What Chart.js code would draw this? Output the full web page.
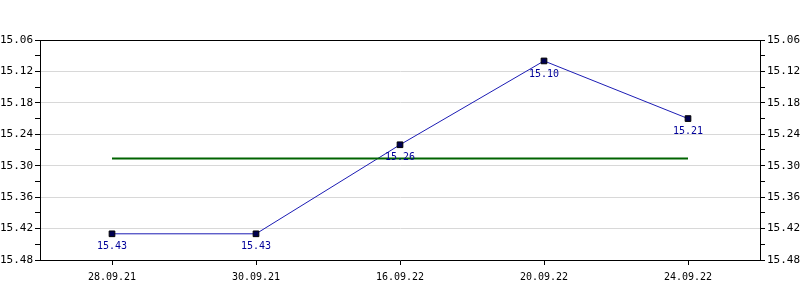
<!DOCTYPE html>
<html>
<head>
    <title>Price chart</title>
    <style>
        body { margin: 0; padding: 0; background: #fff; }
        canvas { display: block; }
    </style>
</head>
<body>
    <canvas id="priceChart" width="800" height="300"></canvas>

    <script src="https://cdn.jsdelivr.net/npm/chart.js"></script>
    <script>
        // chart data
        const dates = ['28.09.21', '30.09.21', '16.09.22', '20.09.22', '24.09.22'];
        const prices = [15.43, 15.43, 15.26, 15.10, 15.21];
        const averageLine = [15.286, 15.286, 15.286, 15.286, 15.286];
        const yMin = 15.06;
        const yMax = 15.48;
        const yStep = 0.03; // labels on every second tick

        const monoFont = 'DejaVu Sans Mono';

        // value labels under each point + black top border
        const extrasPlugin = {
            id: 'extras',
            afterDatasetsDraw(chart) {
                const ctx = chart.ctx;
                const area = chart.chartArea;
                ctx.save();
                ctx.strokeStyle = '#000';
                ctx.lineWidth = 1;
                ctx.beginPath();
                ctx.moveTo(area.left, area.top + 0.5);
                ctx.lineTo(area.right, area.top + 0.5);
                ctx.stroke();

                const meta = chart.getDatasetMeta(1);
                ctx.font = '10px "' + monoFont + '"';
                ctx.fillStyle = '#00009a';
                ctx.textAlign = 'center';
                ctx.textBaseline = 'middle';
                meta.data.forEach((pt, i) => {
                    ctx.fillText(prices[i].toFixed(2), pt.x, pt.y + 13);
                });
                ctx.restore();
            }
        };

        function yAxis(side) {
            return {
                type: 'linear',
                position: side,
                reverse: true,
                min: yMin,
                max: yMax,
                afterFit(scale) { scale.width = 40; },
                ticks: {
                    stepSize: yStep,
                    autoSkip: false,
                    padding: 2,
                    color: '#000',
                    font: { family: monoFont, size: 11 },
                    callback: (v, i) => i % 2 === 0 ? v.toFixed(2) : ''
                },
                grid: {
                    drawOnChartArea: side === 'left',
                    color: (c) => c.index % 2 === 0 ? '#d8d8d8' : 'rgba(0,0,0,0)',
                    tickColor: '#000',
                    tickLength: 5
                },
                border: { color: '#000' }
            };
        }

        new Chart(document.getElementById('priceChart'), {
            type: 'line',
            data: {
                labels: dates,
                datasets: [
                    {
                        data: averageLine,
                        borderColor: '#006400',
                        borderWidth: 2,
                        pointRadius: 0,
                        yAxisID: 'y'
                    },
                    {
                        data: prices,
                        borderColor: '#1c1cb4',
                        borderWidth: 1,
                        pointStyle: 'rect',
                        pointRadius: 4,
                        pointBackgroundColor: '#000050',
                        pointBorderColor: '#000',
                        pointBorderWidth: 1,
                        yAxisID: 'y'
                    }
                ]
            },
            options: {
                responsive: false,
                animation: false,
                events: [],
                layout: { padding: { top: 40, left: 0, right: 0, bottom: 0 } },
                plugins: {
                    legend: { display: false },
                    tooltip: { enabled: false }
                },
                scales: {
                    x: {
                        type: 'category',
                        offset: true,
                        afterFit(scale) { scale.height = 40; },
                        ticks: {
                            color: '#000',
                            padding: 6,
                            maxRotation: 0,
                            font: { family: monoFont, size: 10 }
                        },
                        grid: {
                            drawOnChartArea: false,
                            tickColor: '#000',
                            tickLength: 5
                        },
                        border: { color: '#000' }
                    },
                    y: yAxis('left'),
                    y2: yAxis('right')
                }
            },
            plugins: [extrasPlugin]
        });
    </script>
</body>
</html>
